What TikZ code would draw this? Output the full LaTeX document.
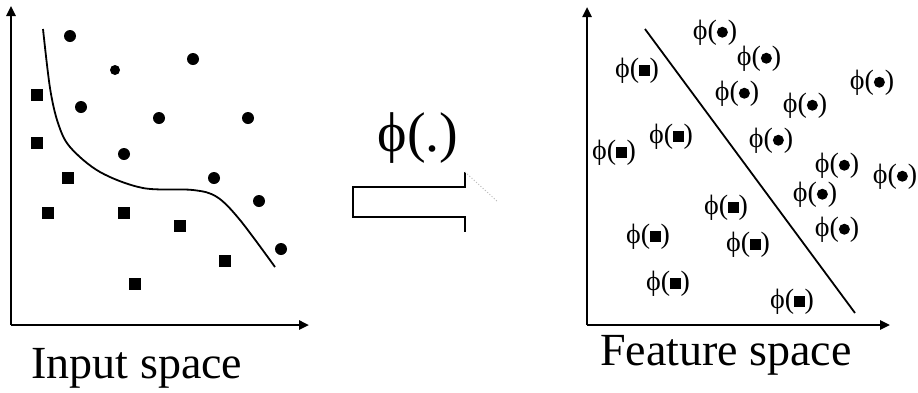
\documentclass[tikz,border=0pt]{standalone}
\usepackage{fontspec}
\setmainfont{Liberation Serif}
\usetikzlibrary{arrows.meta}
\newcommand{\fdot}{\raisebox{2pt}{\tikz\fill (0,0) circle[radius=5.5pt];}}
\newcommand{\fsq}{\raisebox{2pt}{\tikz\fill (0,0) rectangle (10.5pt,10.5pt);}}
\begin{document}
\begin{tikzpicture}[x=1pt,y=-1pt,
  axis/.style={line width=2.4pt,-{Triangle[length=10pt,width=9pt]}},
  flab/.style={inner sep=0pt,font=\fontsize{28}{30}\selectfont},
  title/.style={inner sep=0pt,anchor=base,font=\fontsize{46}{50}\selectfont}]
\useasboundingbox (0,0) rectangle (918,392);
% left panel
\coordinate (lo) at (11,325);
\coordinate (ly) at (11,6);
\coordinate (lx) at (309,325);
\draw[axis] (lo) -- (ly);
\draw[axis] (lo) -- (lx);
\draw[line width=1.8pt] plot[smooth,tension=0.55] coordinates
  {(43,29) (50,88) (58,123) (70,147) (100,172) (143,188) (193,190) (217,197) (240,220) (275,267)};
\foreach \p in {(70,36),(193,59),(81,107),(159,118),(248,118),(124,154),(214,178),(259,201),(281,249)}
  \fill \p circle[radius=6];
\fill (115,70) circle[radius=5];
\foreach \p in {(37,95),(37,143),(68,178),(48,213),(124,213),(180,226),(225,261),(135,284)}
  \fill[shift={\p}] (-6,-6) rectangle (6,6);
\node[title] (lt) at (137,378) {Input space};
% mapping arrow
\node[inner sep=0pt,anchor=base,font=\fontsize{56}{60}\selectfont] (phi) at (418,151) {ϕ(.)};
\coordinate (a1) at (465,172);
\coordinate (a2) at (465,187);
\coordinate (a3) at (353,187);
\coordinate (a4) at (353,217);
\coordinate (a5) at (465,217);
\coordinate (a6) at (465,232);
\coordinate (a7) at (498,202);
\draw[line width=2pt] (a1) -- (a2) -- (a3) -- (a4) -- (a5) -- (a6);
\draw[black!25,line width=1pt,dotted] (a1) -- (a7);
% right panel
\coordinate (ro) at (587,325);
\coordinate (ry) at (587,7);
\coordinate (rx) at (890,325);
\draw[axis] (ro) -- (ry);
\draw[axis] (ro) -- (rx);
\coordinate (s1) at (645,29);
\coordinate (s2) at (855,313);
\draw[line width=1.8pt] (s1) -- (s2);
\foreach \p [count=\i] in {(715,33),(759,59),(872,83),(737,94),(805,106),(771,141),(837,166),(895,177),(815,195),(837,230)}
  \node[flab] (c\i) at \p {ϕ(\fdot)};
\foreach \p [count=\i] in {(637,71),(671,137),(614,153),(726,208),(648,237),(748,245),(668,284),(792,302)}
  \node[flab] (q\i) at \p {ϕ(\fsq)};
\node[title] (rt) at (726,365) {Feature space};
\end{tikzpicture}
\end{document}
